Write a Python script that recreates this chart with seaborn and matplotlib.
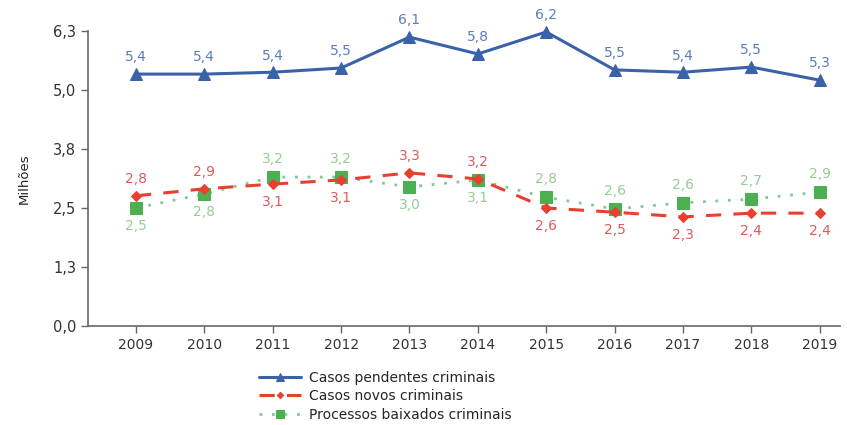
import numpy as np
import pandas as pd
import matplotlib
matplotlib.use("Agg")
import matplotlib.pyplot as plt
import seaborn as sns

years = [2009, 2010, 2011, 2012, 2013, 2014, 2015, 2016, 2017, 2018, 2019]
pendentes = [5.38, 5.38, 5.42, 5.51, 6.17, 5.81, 6.28, 5.47, 5.42, 5.53, 5.25]
novos = [2.78, 2.93, 3.03, 3.12, 3.27, 3.14, 2.52, 2.43, 2.33, 2.41, 2.41]
baixados = [2.52, 2.82, 3.18, 3.18, 2.97, 3.12, 2.75, 2.50, 2.63, 2.71, 2.86]
pendentes_lbl = ["5,4", "5,4", "5,4", "5,5", "6,1", "5,8", "6,2", "5,5", "5,4", "5,5", "5,3"]
novos_lbl = ["2,8", "2,9", "3,1", "3,1", "3,3", "3,2", "2,6", "2,5", "2,3", "2,4", "2,4"]
baixados_lbl = ["2,5", "2,8", "3,2", "3,2", "3,0", "3,1", "2,8", "2,6", "2,6", "2,7", "2,9"]
series_names = ["Casos pendentes criminais", "Casos novos criminais", "Processos baixados criminais"]
yticks = [0.0, 1.26, 2.52, 3.78, 5.04, 6.3]
ytick_lbl = ["0,0", "1,3", "2,5", "3,8", "5,0", "6,3"]

sns.set_theme(style="ticks")
plt.rcParams['font.family'] = ['DejaVu Sans']

fig = plt.figure(figsize=(8.47, 4.25), dpi=100)
ax = fig.add_axes([0.104, 0.233, 0.888, 0.694])

blue = "#3a62a8"
red = "#e8402f"
green = "#4caf50"

df = pd.DataFrame({"ano": years, "p": pendentes, "n": novos, "b": baixados})

sns.lineplot(data=df, x="ano", y="b", ax=ax, color="#7fc99a", linestyle=(0, (1, 3.5)), linewidth=2,
             marker="s", markersize=8.5, markerfacecolor=green, markeredgecolor=green,
             label=series_names[2], clip_on=False, zorder=3)
sns.lineplot(data=df, x="ano", y="n", ax=ax, color=red, linestyle=(0, (5, 4)), linewidth=2.2,
             marker="D", markersize=5, markerfacecolor=red, markeredgecolor=red,
             label=series_names[1], clip_on=False, zorder=4)
sns.lineplot(data=df, x="ano", y="p", ax=ax, color=blue, linestyle="-", linewidth=2.2,
             marker="^", markersize=8.5, markerfacecolor=blue, markeredgecolor=blue,
             label=series_names[0], clip_on=False, zorder=5)

# data labels
novos_above = {2009, 2010, 2013, 2014}
fs = 10
for i, yr in enumerate(years):
    ax.annotate(pendentes_lbl[i], (yr, pendentes[i]), xytext=(0, 7), textcoords="offset points",
                ha="center", va="bottom", fontsize=fs, color="#5b7db8")
    if yr in novos_above:
        ax.annotate(novos_lbl[i], (yr, novos[i]), xytext=(0, 7), textcoords="offset points",
                    ha="center", va="bottom", fontsize=fs, color="#e05a5a")
        ax.annotate(baixados_lbl[i], (yr, baixados[i]), xytext=(0, -8), textcoords="offset points",
                    ha="center", va="top", fontsize=fs, color="#94cc94")
    else:
        ax.annotate(novos_lbl[i], (yr, novos[i]), xytext=(0, -8), textcoords="offset points",
                    ha="center", va="top", fontsize=fs, color="#e05a5a")
        ax.annotate(baixados_lbl[i], (yr, baixados[i]), xytext=(0, 8), textcoords="offset points",
                    ha="center", va="bottom", fontsize=fs, color="#94cc94")

ax.set_xlim(2008.3, 2019.3)
ax.set_ylim(0, 6.3)
ax.set_xticks(years)
ax.set_xticklabels([str(y) for y in years], fontsize=10, color="#333333")
ax.set_yticks(yticks)
ax.set_yticklabels(ytick_lbl, fontsize=10.5, color="#333333")
ax.set_xlabel("")
ax.set_ylabel("Milhões", fontsize=9.5, color="#222222", labelpad=16)
ax.tick_params(axis="both", length=5, color="#666666", width=1)
sns.despine(ax=ax)
for s in ["left", "bottom"]:
    ax.spines[s].set_color("#666666")
    ax.spines[s].set_linewidth(1.2)

h, l = ax.get_legend_handles_labels()
order = [2, 1, 0]
ax.legend([h[i] for i in order], [l[i] for i in order], loc="upper left",
          bbox_to_anchor=(0.298, 0.143), bbox_transform=fig.transFigure, frameon=False,
          fontsize=10, handlelength=3.0, labelspacing=0.3, borderpad=0, handletextpad=0.6,
          markerscale=0.65)

fig.savefig("out.png", dpi=100)
